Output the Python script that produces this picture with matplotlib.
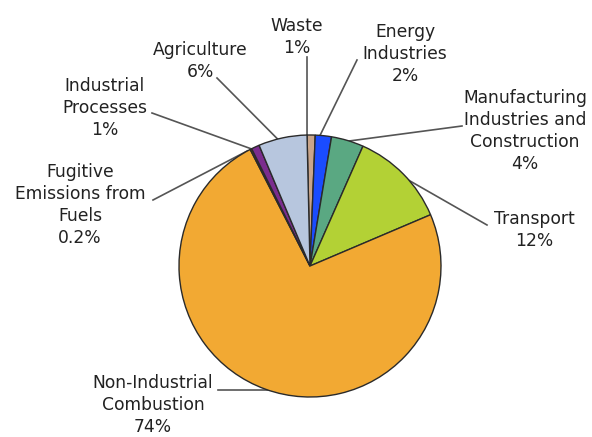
import numpy as np
import matplotlib
matplotlib.use('Agg')
from matplotlib import pyplot as plt

# sectors clockwise from the top
sectors = ['Waste', 'Energy\nIndustries', 'Manufacturing\nIndustries and\nConstruction',
           'Transport', 'Non-Industrial\nCombustion', 'Fugitive\nEmissions from\nFuels',
           'Industrial\nProcesses', 'Agriculture']
shares = [1, 2, 4, 12, 74, 0.2, 1, 6]
share_text = ['1%', '2%', '4%', '12%', '74%', '0.2%', '1%', '6%']
colors = ['#c9a58a', '#1a4cff', '#5aa882', '#b3d135', '#f2a933', '#8b4513', '#7b2d8e', '#b7c6de']

W, H = 592, 437
cx, cy, r = 310, 266, 131   # pie centre / radius in pixels (y from top)

# label layout: text centre, leader start, angle where leader meets the pie (deg clockwise from north)
text_pos = [(297, 37), (405, 54), (525, 131), (534, 230), (153, 405), (80, 205), (105, 108), (200, 61)]
lead_start = [(307, 57), (357, 60), (462, 126), (487, 225), (218, 390), (153, 200), (152, 113), (217, 78)]
lead_angle = [-1.3, 4.4, 17.4, 49.3, 198.8, -28.5, -26.6, -14.3]

fig = plt.figure(figsize=(W / 100, H / 100), dpi=100)
ax = fig.add_axes([0, 0, 1, 1])

ax.pie(shares, colors=colors, startangle=91.3, counterclock=False,
       center=(cx, H - cy), radius=r,
       wedgeprops=dict(edgecolor='#2a2a2a', linewidth=1.0))

for lab, pct, (tx, ty), (lx, ly), a in zip(sectors, share_text, text_pos, lead_start, lead_angle):
    ex = cx + r * np.sin(np.radians(a))
    ey = cy - r * np.cos(np.radians(a))
    ax.plot([lx, ex], [H - ly, H - ey], color='#555555', lw=1.2, zorder=0)
    ax.text(tx, H - ty, lab + '\n' + pct, ha='center', va='center', fontsize=12.3,
            color='#222222', linespacing=1.3, family='DejaVu Sans')

ax.set_xlim(0, W)
ax.set_ylim(0, H)
ax.set_aspect('equal')
ax.axis('off')

fig.savefig('out.png', dpi=100)
